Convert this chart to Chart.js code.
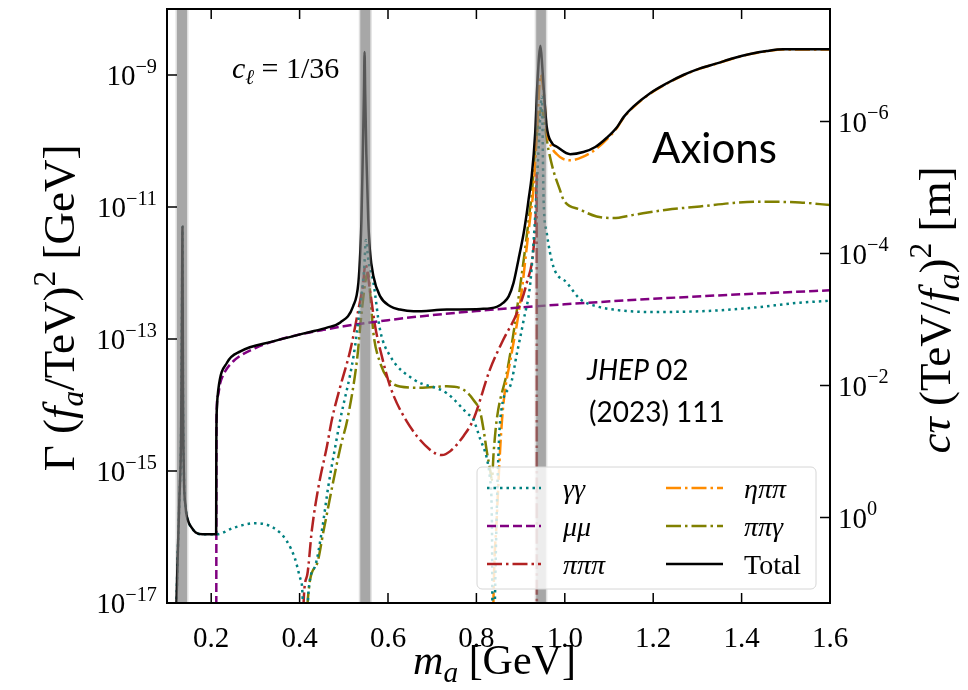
<!DOCTYPE html>
<html lang="en">
<head>
  <meta charset="UTF-8">
  <title>Axion decay widths</title>
  <style>
    html, body { margin: 0; padding: 0; background: #fff; }
    #wrap { width: 968px; height: 690px; }
  </style>
</head>
<body>
  <div id="wrap"><canvas id="grafico" width="968" height="690"></canvas></div>

  <script src="https://cdn.jsdelivr.net/npm/chart.js"></script>
  <script>
    // axion mass in GeV, partial widths in GeV (times (f_a/TeV)^2)
    const massTotal = [0.100, 0.120, 0.124, 0.128, 0.132, 0.134, 0.135, 0.136, 0.138, 0.142, 0.148, 0.155, 0.165, 0.180, 0.200, 0.2112, 0.2116, 0.213, 0.216, 0.236, 0.266, 0.340, 0.417, 0.462, 0.492, 0.521, 0.533, 0.5375, 0.540, 0.543, 0.5455, 0.547, 0.5485, 0.551, 0.5553, 0.559, 0.567, 0.582, 0.605, 0.627, 0.658, 0.733, 0.809, 0.846, 0.861, 0.873, 0.884, 0.895, 0.907, 0.914, 0.918, 0.925, 0.933, 0.938, 0.945, 0.949, 0.953, 0.959, 0.971, 0.982, 1.012, 1.042, 1.069, 1.095, 1.118, 1.133, 1.155, 1.193, 1.231, 1.268, 1.306, 1.344, 1.381, 1.419, 1.457, 1.494, 1.532, 1.600];
    const widthTotal = [1e-19, 5e-18, 4.6e-17, 3.7e-16, 4.3e-15, 4.0e-13, 5.0e-12, 2.5e-14, 1.05e-15, 2.9e-16, 1.74e-16, 1.41e-16, 1.17e-16, 1.1e-16, 1.1e-16, 1.1e-16, 2.5e-15, 9.3e-15, 1.7e-14, 4.4e-14, 6.5e-14, 9.2e-14, 1.25e-13, 1.49e-13, 1.78e-13, 3.13e-13, 7.1e-13, 2.25e-12, 6.5e-12, 6.3e-11, 5.0e-10, 2.24e-9, 5.0e-10, 6.3e-11, 6.5e-12, 2.24e-12, 8.9e-13, 4.47e-13, 3.13e-13, 2.79e-13, 2.63e-13, 2.79e-13, 2.85e-13, 3.06e-13, 3.55e-13, 4.43e-13, 7.1e-13, 1.58e-12, 4.03e-12, 8.1e-12, 1.29e-11, 2.88e-11, 1.32e-10, 7.5e-10, 2.77e-9, 1.34e-9, 5.3e-10, 1.66e-10, 9.3e-11, 8.2e-11, 6.3e-11, 6.8e-11, 8.1e-11, 1.12e-10, 1.62e-10, 2.3e-10, 3.31e-10, 5.3e-10, 7.5e-10, 1.0e-9, 1.26e-9, 1.5e-9, 1.79e-9, 2.08e-9, 2.31e-9, 2.45e-9, 2.45e-9, 2.45e-9];

    const massGG = [0.100, 0.120, 0.124, 0.128, 0.132, 0.134, 0.135, 0.136, 0.138, 0.142, 0.148, 0.155, 0.165, 0.180, 0.200, 0.213, 0.251, 0.300, 0.341, 0.371, 0.390, 0.402, 0.407, 0.410, 0.420, 0.435, 0.451, 0.465, 0.481, 0.492, 0.522, 0.537, 0.546, 0.550, 0.556, 0.567, 0.582, 0.605, 0.658, 0.733, 0.778, 0.793, 0.809, 0.824, 0.831, 0.835, 0.838, 0.842, 0.854, 0.876, 0.892, 0.907, 0.922, 0.933, 0.941, 0.948, 0.952, 0.959, 0.974, 1.005, 1.035, 1.072, 1.110, 1.193, 1.306, 1.419, 1.532, 1.600];
    const widthGG = [1e-19, 5e-18, 4.6e-17, 3.7e-16, 4.3e-15, 4.0e-13, 5.0e-12, 2.5e-14, 1.05e-15, 2.9e-16, 1.74e-16, 1.41e-16, 1.17e-16, 1.1e-16, 1.1e-16, 1.1e-16, 1.38e-16, 1.62e-16, 1.38e-16, 8.7e-17, 4.6e-17, 2.3e-17, 1.15e-17, 1e-19, 1.45e-17, 3.6e-17, 1.32e-16, 5.9e-16, 2.4e-15, 6.0e-15, 5.5e-14, 3.13e-13, 1.12e-12, 3.16e-12, 1.5e-12, 7.1e-13, 1.38e-13, 5.5e-14, 2.45e-14, 1.51e-14, 7.6e-15, 6.0e-15, 3.0e-15, 1.51e-15, 7.4e-16, 1.86e-16, 1e-19, 1.15e-17, 6.0e-15, 1.9e-14, 6.2e-14, 1.95e-13, 7.1e-13, 7.2e-12, 8e-11, 4.7e-10, 1.29e-11, 4.1e-12, 1.26e-12, 7.1e-13, 4.0e-13, 3.13e-13, 2.79e-13, 2.57e-13, 2.63e-13, 2.95e-13, 3.55e-13, 3.8e-13];

    const massMM = [0.2113, 0.212, 0.215, 0.220, 0.230, 0.250, 0.300, 0.350, 0.400, 0.450, 0.500, 0.600, 0.700, 0.800, 0.900, 1.000, 1.200, 1.400, 1.600];
    const widthMM = [1e-19, 5.9e-15, 1.37e-14, 2.1e-14, 3.1e-14, 4.6e-14, 7.3e-14, 9.6e-14, 1.17e-13, 1.36e-13, 1.56e-13, 1.93e-13, 2.3e-13, 2.65e-13, 3.0e-13, 3.36e-13, 4.06e-13, 4.76e-13, 5.46e-13];

    const massPPP = [0.405, 0.409, 0.417, 0.428, 0.443, 0.462, 0.473, 0.492, 0.515, 0.533, 0.543, 0.549, 0.560, 0.571, 0.586, 0.605, 0.640, 0.695, 0.722, 0.741, 0.771, 0.793, 0.831, 0.861, 0.892, 0.914, 0.929, 0.935, 0.9365, 0.937];
    const widthPPP = [1e-19, 1e-17, 2.6e-17, 1.32e-16, 5.9e-16, 2.4e-15, 6.0e-15, 1.9e-14, 6.9e-14, 2.79e-13, 6.3e-13, 1.35e-12, 5.0e-13, 1.55e-13, 5.5e-14, 1.9e-14, 6.0e-15, 2.1e-15, 1.74e-15, 2.0e-15, 3.4e-15, 6.0e-15, 3.5e-14, 9.8e-14, 2.5e-13, 7.1e-13, 2.24e-12, 1.0e-11, 3.2e-11, 1e-19];

    const massEPP = [0.835, 0.8386, 0.846, 0.858, 0.880, 0.892, 0.903, 0.914, 0.922, 0.929, 0.937, 0.945, 0.953, 0.959, 0.971, 0.982, 0.995, 1.012, 1.042, 1.069, 1.095, 1.118, 1.133, 1.155, 1.193, 1.231, 1.268, 1.306, 1.344, 1.381, 1.419, 1.457, 1.494, 1.532, 1.600];
    const widthEPP = [1e-19, 1.1e-17, 1.86e-16, 6.0e-15, 6.2e-14, 1.74e-13, 5.6e-13, 2.5e-12, 7.2e-12, 1.82e-11, 1.26e-10, 1.0e-9, 4.8e-10, 1.48e-10, 7.9e-11, 6.3e-11, 5.4e-11, 5.1e-11, 5.8e-11, 7.4e-11, 1.06e-10, 1.58e-10, 2.26e-10, 3.24e-10, 5.2e-10, 7.4e-10, 9.9e-10, 1.25e-9, 1.49e-9, 1.78e-9, 2.07e-9, 2.29e-9, 2.43e-9, 2.43e-9, 2.43e-9];

    const massPPG = [0.414, 0.418, 0.437, 0.455, 0.474, 0.493, 0.508, 0.530, 0.541, 0.551, 0.555, 0.560, 0.567, 0.582, 0.601, 0.627, 0.673, 0.733, 0.771, 0.793, 0.809, 0.816, 0.824, 0.831, 0.835, 0.839, 0.846, 0.869, 0.884, 0.899, 0.910, 0.922, 0.925, 0.933, 0.947, 0.963, 0.974, 0.989, 0.997, 1.035, 1.072, 1.110, 1.155, 1.231, 1.306, 1.381, 1.442, 1.532, 1.600];
    const widthPPG = [1e-19, 1e-17, 3.6e-17, 1.32e-16, 5.9e-16, 2.4e-15, 6.0e-15, 4.9e-14, 2.79e-13, 8.9e-13, 1.0e-12, 4.5e-13, 1.23e-13, 4.4e-14, 2.45e-14, 1.9e-14, 1.82e-14, 1.92e-14, 1.7e-14, 1.2e-14, 7.6e-15, 4.3e-15, 1.9e-15, 1.05e-15, 7.4e-16, 1.9e-15, 6.0e-15, 3.1e-14, 1.23e-13, 6.3e-13, 2.24e-12, 1.02e-11, 1.45e-11, 7.4e-11, 3.0e-10, 7.4e-11, 3.6e-11, 1.82e-11, 1.29e-11, 9.1e-12, 7.2e-12, 6.8e-12, 7.6e-12, 9.1e-12, 1.02e-11, 1.15e-11, 1.2e-11, 1.17e-11, 1.07e-11];

    // shaded mass windows around pi0, eta, eta'
    const bandLo = [0.1226, 0.5373, 0.9353];
    const bandHi = [0.1452, 0.5599, 0.9572];

    const massTicks = [0.2, 0.4, 0.6, 0.8, 1.0, 1.2, 1.4, 1.6];
    const gammaTicks = [1e-17, 1e-15, 1e-13, 1e-11, 1e-9];
    const gammaTickExp = ["\u221217", "\u221215", "\u221213", "\u221211", "\u22129"];
    const ctauTicks = [1, 1e-2, 1e-4, 1e-6];
    const ctauTickExp = ["0", "\u22122", "\u22124", "\u22126"];

    const HBARC = 1.9733e-16; // GeV m

    const serif = '"Liberation Serif", "DejaVu Serif", serif';

    // parts: [text, flags]  i = italic, s = subscript, p = superscript
    function drawRich(ctx, parts, x, y, size, align, angle) {
      const fontOf = f => (f.includes("i") ? "italic " : "") + ((f.includes("s") || f.includes("p")) ? size * 0.7 : size) + "px " + serif;
      ctx.save();
      ctx.translate(x, y);
      ctx.rotate(angle || 0);
      let w = 0;
      parts.forEach(([t, f]) => { ctx.font = fontOf(f); w += ctx.measureText(t).width; });
      let cx = align === "center" ? -w / 2 : align === "right" ? -w : 0;
      ctx.textBaseline = "alphabetic";
      ctx.textAlign = "left";
      ctx.fillStyle = "#000";
      parts.forEach(([t, f]) => {
        ctx.font = fontOf(f);
        const dy = f.includes("s") ? size * 0.2 : f.includes("p") ? -size * 0.42 : 0;
        ctx.fillText(t, cx, dy);
        cx += ctx.measureText(t).width;
      });
      ctx.restore();
    }

    const decor = {
      id: "decor",
      afterDatasetsDraw(chart) {
        const { ctx, chartArea: a, scales } = chart;
        const xs = scales.x, yl = scales.y, yr = scales.y2;
        const h = a.bottom - a.top;
        ctx.save();

        // grey bands on top of the curves
        bandLo.forEach((lo, i) => {
          const x0 = xs.getPixelForValue(lo), x1 = xs.getPixelForValue(bandHi[i]);
          ctx.fillStyle = "rgba(128,128,128,0.25)";
          ctx.fillRect(x0 - 1.5, a.top, x1 - x0 + 3, h);
          ctx.fillStyle = "rgba(128,128,128,0.58)";
          ctx.fillRect(x0, a.top, x1 - x0, h);
        });

        // legend
        ctx.beginPath();
        ctx.roundRect(477, 467, 339, 122, 5);
        ctx.fillStyle = "rgba(255,255,255,0.8)";
        ctx.fill();
        ctx.lineWidth = 1;
        ctx.strokeStyle = "#d6d6d6";
        ctx.stroke();
        const cols = [[487, 541, 563], [666, 723, 744]];
        const rows = [488, 526, 564];
        const legendOrder = [1, 2, 3, 4, 5, 0];
        legendOrder.forEach((di, k) => {
          const ds = chart.data.datasets[di];
          const [x0, x1, tx] = cols[Math.floor(k / 3)];
          const yy = rows[k % 3];
          ctx.beginPath();
          ctx.setLineDash(ds.borderDash || []);
          ctx.strokeStyle = ds.borderColor;
          ctx.lineWidth = ds.borderWidth;
          ctx.moveTo(x0, yy);
          ctx.lineTo(x1, yy);
          ctx.stroke();
          ctx.setLineDash([]);
          drawRich(ctx, [[ds.label, ds.label === "Total" ? "" : "i"]], tx, yy + 10, 28, "left");
        });

        // frame
        ctx.strokeStyle = "#000";
        ctx.lineWidth = 2;
        ctx.strokeRect(a.left, a.top, a.right - a.left, h);

        // inward ticks and tick labels
        ctx.lineWidth = 1.5;
        ctx.beginPath();
        massTicks.forEach(v => {
          const px = xs.getPixelForValue(v);
          ctx.moveTo(px, a.bottom); ctx.lineTo(px, a.bottom - 10);
          ctx.moveTo(px, a.top); ctx.lineTo(px, a.top + 10);
        });
        gammaTicks.forEach(v => {
          const py = yl.getPixelForValue(v);
          ctx.moveTo(a.left, py); ctx.lineTo(a.left + 10, py);
        });
        ctauTicks.forEach(v => {
          const py = yr.getPixelForValue(v);
          ctx.moveTo(a.right, py); ctx.lineTo(a.right - 10, py);
        });
        ctx.stroke();

        massTicks.forEach(v => {
          drawRich(ctx, [[v.toFixed(1), ""]], xs.getPixelForValue(v), a.bottom + 44, 29, "center");
        });
        gammaTicks.forEach((v, i) => {
          drawRich(ctx, [["10", ""], [gammaTickExp[i], "p"]], a.left - 10, yl.getPixelForValue(v) + 10, 29, "right");
        });
        ctauTicks.forEach((v, i) => {
          drawRich(ctx, [["10", ""], [ctauTickExp[i], "p"]], a.right + 8, yr.getPixelForValue(v) + 10, 29, "left");
        });

        // axis titles
        drawRich(ctx, [["m", "i"], ["a", "is"], [" [GeV]", ""]], (a.left + a.right) / 2 - 4, 674, 42, "center");
        drawRich(ctx, [["\u0393 (", ""], ["f", "i"], ["a", "is"], ["/TeV)", ""], ["2", "p"], [" [GeV]", ""]],
          74, 308, 45, "center", -Math.PI / 2);
        drawRich(ctx, [["c\u03c4", "i"], [" (TeV/", ""], ["f", "i"], ["a", "is"], [")", ""], ["2", "p"], [" [m]", ""]],
          950, 310, 45, "center", -Math.PI / 2);

        // annotations
        drawRich(ctx, [["c", "i"], ["\u2113", "is"], [" = 1/36", ""]], 232, 78, 30, "left");
        ctx.fillStyle = "#000";
        ctx.textAlign = "left";
        ctx.textBaseline = "alphabetic";
        ctx.font = '42px Lato, "Open Sans", sans-serif';
        ctx.fillText("Axions", 652, 163);
        ctx.font = 'italic 28px Lato, "Open Sans", sans-serif';
        ctx.fillText("JHEP", 587, 380);
        const jw = ctx.measureText("JHEP").width;
        ctx.font = '28px Lato, "Open Sans", sans-serif';
        ctx.fillText(" 02", 587 + jw, 380);
        ctx.fillText("(2023) 111", 589, 422);
        ctx.restore();
      }
    };

    const series = [
      { label: "Total", mass: massTotal, width: widthTotal, color: "#000000", dash: [] },
      { label: "\u03b3\u03b3", mass: massGG, width: widthGG, color: "#008080", dash: [2.5, 4] },
      { label: "\u03bc\u03bc", mass: massMM, width: widthMM, color: "#800080", dash: [9, 4] },
      { label: "\u03c0\u03c0\u03c0", mass: massPPP, width: widthPPP, color: "#b22222", dash: [15, 4, 2.5, 4] },
      { label: "\u03b7\u03c0\u03c0", mass: massEPP, width: widthEPP, color: "#ff8c00", dash: [15, 4, 2.5, 4] },
      { label: "\u03c0\u03c0\u03b3", mass: massPPG, width: widthPPG, color: "#808000", dash: [15, 4, 2.5, 4] }
    ];

    const lienzo = document.getElementById("grafico");
    new Chart(lienzo, {
      type: "line",
      data: {
        datasets: series.map((s, i) => ({
          label: s.label,
          data: s.mass.map((m, j) => ({ x: m, y: s.width[j] })),
          borderColor: s.color,
          borderWidth: 2.5,
          borderDash: s.dash,
          fill: false,
          pointRadius: 0,
          cubicInterpolationMode: "monotone",
          order: i
        }))
      },
      options: {
        responsive: false,
        animation: false,
        devicePixelRatio: 1,
        events: [],
        layout: { padding: { top: 9, left: 0, right: 0, bottom: 0 } },
        plugins: { legend: { display: false }, tooltip: { enabled: false } },
        scales: {
          x: {
            type: "linear", min: 0.1, max: 1.6,
            grid: { display: false }, border: { display: false }, ticks: { display: false },
            afterFit: s => { s.height = 87; }
          },
          y: {
            type: "logarithmic", position: "left", min: 1e-17, max: 1e-8,
            grid: { display: false }, border: { display: false }, ticks: { display: false },
            afterFit: s => { s.width = 167; }
          },
          y2: {
            type: "logarithmic", position: "right", reverse: true,
            min: HBARC / 1e-8, max: HBARC / 1e-17,
            grid: { display: false }, border: { display: false }, ticks: { display: false },
            afterFit: s => { s.width = 138; }
          }
        }
      },
      plugins: [decor]
    });
  </script>
</body>
</html>
